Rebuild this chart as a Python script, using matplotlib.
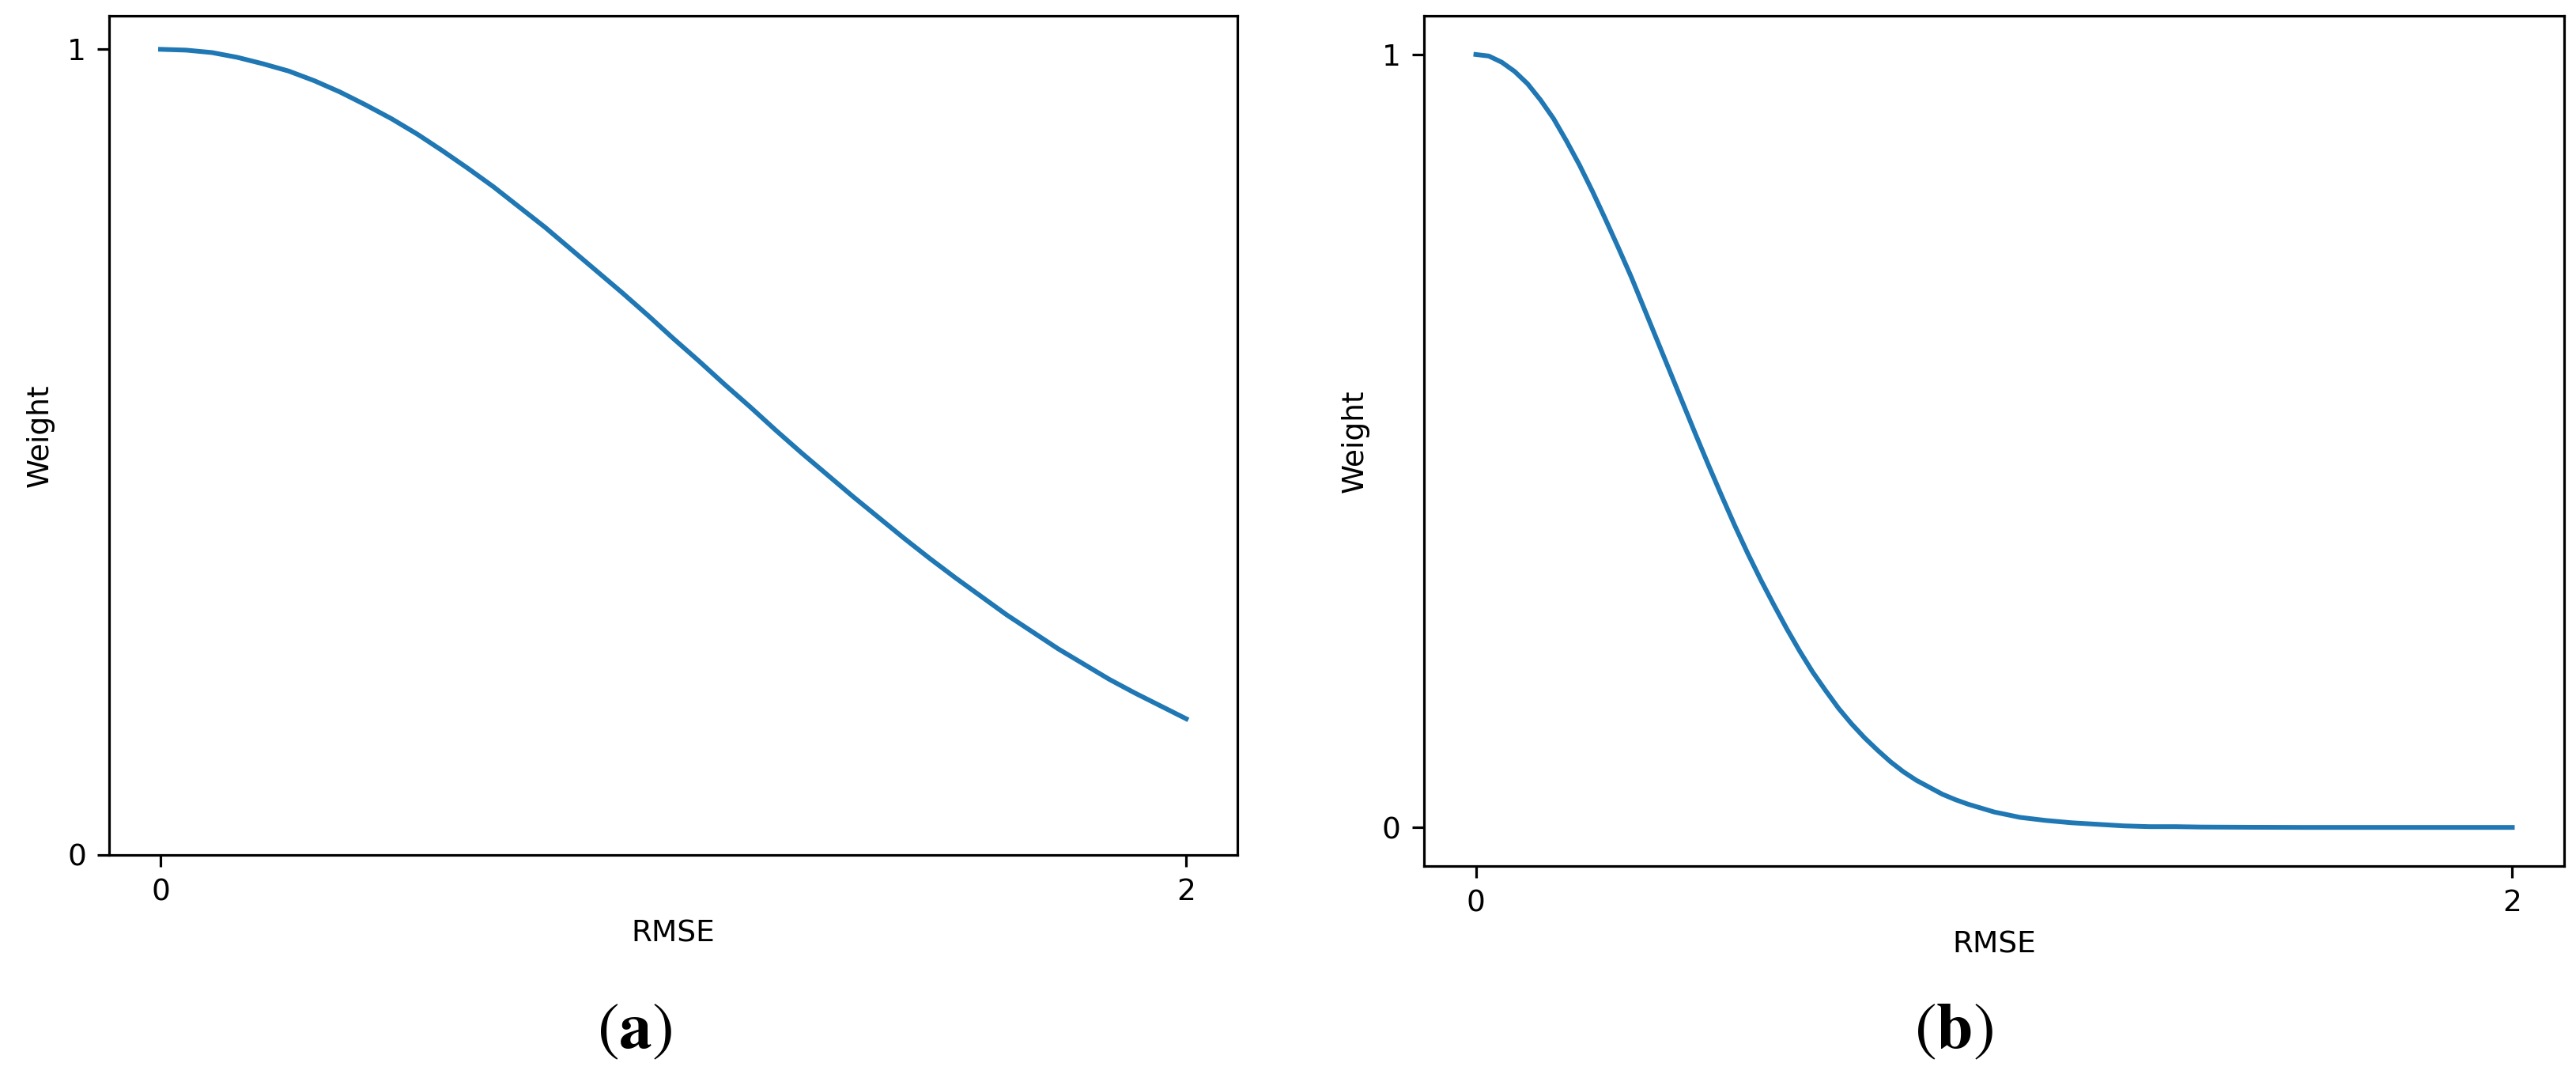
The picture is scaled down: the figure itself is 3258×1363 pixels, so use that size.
import matplotlib
matplotlib.use('Agg')
import matplotlib.pyplot as plt

# values
rmse_a = [0.0, 0.05, 0.1, 0.15, 0.2, 0.25, 0.3, 0.35, 0.4, 0.45, 0.5,
          0.55, 0.6, 0.65, 0.7, 0.75, 0.8, 0.85, 0.9, 0.95, 1.0,
          1.05, 1.1, 1.15, 1.2, 1.25, 1.3, 1.35, 1.4, 1.45, 1.5,
          1.55, 1.6, 1.65, 1.7, 1.75, 1.8, 1.85, 1.9, 1.95, 2.0]
weight_a = [1.000, 0.999, 0.996, 0.990, 0.982, 0.973, 0.961, 0.947, 0.931, 0.914, 0.895,
            0.874, 0.852, 0.829, 0.804, 0.779, 0.752, 0.725, 0.698, 0.670, 0.641,
            0.613, 0.584, 0.556, 0.527, 0.499, 0.472, 0.445, 0.419, 0.393, 0.368,
            0.344, 0.321, 0.298, 0.277, 0.256, 0.237, 0.218, 0.201, 0.185, 0.169]

rmse_b = [0.0, 0.025, 0.05, 0.075, 0.1, 0.125, 0.15, 0.175, 0.2, 0.225, 0.25,
          0.275, 0.3, 0.325, 0.35, 0.375, 0.4, 0.425, 0.45, 0.475, 0.5,
          0.525, 0.55, 0.575, 0.6, 0.625, 0.65, 0.675, 0.7, 0.725, 0.75,
          0.775, 0.8, 0.825, 0.85, 0.875, 0.9, 0.925, 0.95, 0.975, 1.0,
          1.05, 1.1, 1.15, 1.2, 1.25, 1.3, 1.35, 1.4, 1.5, 1.6,
          1.7, 1.8, 1.9, 2.0]
weight_b = [1.000, 0.998, 0.990, 0.978, 0.962, 0.941, 0.917, 0.888, 0.857, 0.823, 0.787,
            0.750, 0.712, 0.671, 0.630, 0.589, 0.548, 0.507, 0.467, 0.428, 0.390,
            0.354, 0.320, 0.288, 0.257, 0.228, 0.201, 0.177, 0.154, 0.134, 0.116,
            0.100, 0.085, 0.072, 0.061, 0.052, 0.043, 0.036, 0.030, 0.025, 0.020,
            0.013, 0.009, 0.006, 0.004, 0.002, 0.001, 0.001, 0.0005, 0.0002, 0.000,
            0.000, 0.000, 0.000, 0.000]

x_ticks = [0, 2]
y_ticks = [0, 1]
captions = [r'$(\mathbf{a})$', r'$(\mathbf{b})$']

plt.rcParams['mathtext.fontset'] = 'stix'
plt.rcParams['font.size'] = 27
plt.rcParams['axes.linewidth'] = 2.3
plt.rcParams['xtick.major.width'] = 2.3
plt.rcParams['ytick.major.width'] = 2.3
plt.rcParams['xtick.major.size'] = 11
plt.rcParams['ytick.major.size'] = 11
plt.rcParams['xtick.major.pad'] = 10
plt.rcParams['ytick.major.pad'] = 10
plt.rcParams['axes.labelpad'] = 12

fig = plt.figure(figsize=(32.58, 13.63), dpi=100)

ax1 = fig.add_axes([0.0424, 0.2069, 0.4380, 0.7784])
ax1.plot(rmse_a, weight_a, color='#1f77b4', lw=4.3)
ax1.set_ylim(bottom=0)
ax1.set_xticks(x_ticks)
ax1.set_yticks(y_ticks)
ax1.set_xlabel('RMSE')
ax1.set_ylabel('Weight')

ax2 = fig.add_axes([0.5528, 0.1966, 0.4426, 0.7887])
ax2.plot(rmse_b, weight_b, color='#1f77b4', lw=4.3)
ax2.set_xticks(x_ticks)
ax2.set_yticks(y_ticks)
ax2.set_xlabel('RMSE')
ax2.set_ylabel('Weight')

fig.text(0.2462, 0.0279, captions[0], fontsize=60, ha='center', va='baseline')
fig.text(0.7584, 0.0279, captions[1], fontsize=60, ha='center', va='baseline')

fig.savefig('out.png', dpi=100)
